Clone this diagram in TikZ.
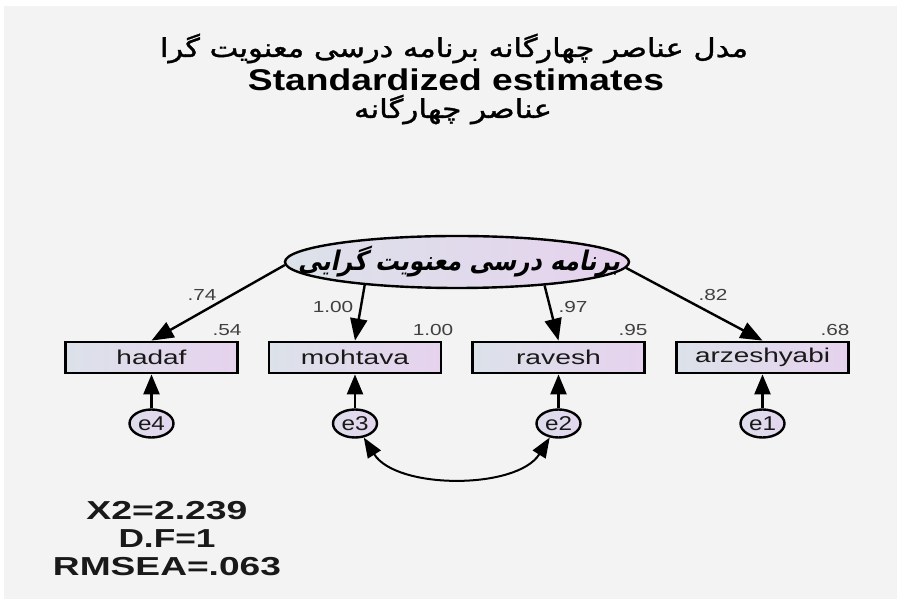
\documentclass[tikz,border=0pt]{standalone}
\usepackage{fontspec}
\usepackage{graphicx}
\setmainfont{Liberation Sans}
\newfontfamily\fa[Script=Arabic,FakeBold=1.2]{DejaVu Sans}
\newfontfamily\fait[Script=Arabic,FakeSlant=0.25]{DejaVu Sans}
\TeXXeTstate=1
\usetikzlibrary{shapes.geometric,arrows.meta}
\definecolor{bg}{HTML}{F3F3F3}
\definecolor{boxl}{HTML}{DCE2E9}
\definecolor{boxr}{HTML}{E6D2EE}
\definecolor{ell}{HTML}{E2D6EE}
\newcommand{\wbox}[2]{\resizebox{#1}{\height}{#2}}
\newcommand{\sx}[2]{\scalebox{#1}[1]{#2}}
\tikzset{
  obs/.style={rectangle, draw=black, line width=2.8pt, minimum width=172pt, minimum height=31pt, inner sep=0pt,
    left color=boxl, right color=boxr, font=\fontsize{20}{22}\selectfont, text=black!90},
  errv/.style={ellipse, draw=black, line width=2.4pt, minimum width=44pt, minimum height=28pt, inner sep=0pt,
    left color=boxl!60!ell, right color=ell, font=\fontsize{20}{22}\selectfont, text=black!90},
  latv/.style={ellipse, draw=black, line width=2.4pt, minimum width=344pt, minimum height=52pt, inner sep=0pt,
    left color=boxl, right color=boxr},
  lab/.style={font=\fontsize{16}{18}\selectfont, text=black!75, inner sep=0pt},
  stat/.style={font=\fontsize{26}{28}\selectfont\bfseries, text=black!90, anchor=base, inner sep=0pt},
  arr/.style={-{Triangle[length=22pt,width=17pt]}, line width=2.4pt},
  earr/.style={-{Triangle[length=20pt,width=16pt]}, line width=2.4pt},
  carr/.style={{Triangle[length=20pt,width=15pt]}-{Triangle[length=20pt,width=15pt]}, line width=2pt}
}
\begin{document}
\begin{tikzpicture}[x=1pt,y=1pt]
\fill[white] (0,0) rectangle (900,599);
\fill[bg] (4,0) rectangle (897,593);
\useasboundingbox (0,0) rectangle (900,599);

% titles
\node[anchor=base, inner sep=0pt] (t1) at (454,542) {\wbox{588pt}{\fa\fontsize{26}{30}\selectfont\beginR مدل عناصر چهارگانه برنامه درسی معنویت گرا\endR}};
\node[anchor=base, inner sep=0pt] (t2) at (456,508) {\wbox{416pt}{\fontsize{30}{34}\selectfont\bfseries Standardized estimates}};
\node[anchor=base, inner sep=0pt] (t3) at (453,481) {\wbox{198pt}{\fa\fontsize{26}{30}\selectfont\beginR عناصر چهارگانه\endR}};

% latent
\node[latv] (lat) at (457,337) {};
\node[inner sep=0pt] (latt) at (459,337) {\wbox{322pt}{\fait\bfseries\fontsize{27}{30}\selectfont\beginR برنامه درسی معنویت گرایی\endR}};

% observed
\node[obs] (hadaf) at (151.5,241.5) {\wbox{70pt}{hadaf}};
\node[obs] (mohtava) at (355,241.5) {\wbox{108pt}{mohtava}};
\node[obs] (ravesh) at (558.5,241.5) {\wbox{85pt}{ravesh}};
\node[obs] (arzeshyabi) at (762.5,241.5) {\wbox{135pt}{arzeshyabi}};

% errors
\node[errv] (e4) at (151.5,175.5) {\wbox{27pt}{e4}};
\node[errv] (e3) at (355,175.5) {\wbox{27pt}{e3}};
\node[errv] (e2) at (558.5,175.5) {\wbox{27pt}{e2}};
\node[errv] (e1) at (762.5,175.5) {\wbox{27pt}{e1}};

% loadings
\draw[arr] (lat.181.7) -- (hadaf.north);
\draw[arr] (lat.194.6) -- (mohtava.north);
\draw[arr] (lat.345.4) -- (ravesh.north);
\draw[arr] (lat.-2.9) -- (arzeshyabi.north);

\draw[earr] (e4.north) -- (hadaf.south);
\draw[earr] (e3.north) -- (mohtava.south);
\draw[earr] (e2.north) -- (ravesh.south);
\draw[earr] (e1.north) -- (arzeshyabi.south);

\draw[carr] (e3) to[out=-58,in=-122,looseness=0.85] (e2);

% labels
\node[lab] (l1) at (202,304) {\sx{1.3}{.74}};
\node[lab] (l2) at (333,292) {\sx{1.3}{1.00}};
\node[lab] (l3) at (227,269) {\sx{1.3}{.54}};
\node[lab] (l4) at (433,269) {\sx{1.3}{1.00}};
\node[lab] (l5) at (573,292) {\sx{1.3}{.97}};
\node[lab] (l6) at (633,269) {\sx{1.3}{.95}};
\node[lab] (l7) at (713,304) {\sx{1.3}{.82}};
\node[lab] (l8) at (835,269) {\sx{1.3}{.68}};

% fit
\node[stat] (s1) at (167,79) {\wbox{161pt}{X2=2.239}};
\node[stat] (s2) at (167,51) {\wbox{97pt}{D.F=1}};
\node[stat] (s3) at (167,23) {\wbox{228pt}{RMSEA=.063}};
\end{tikzpicture}
\end{document}
